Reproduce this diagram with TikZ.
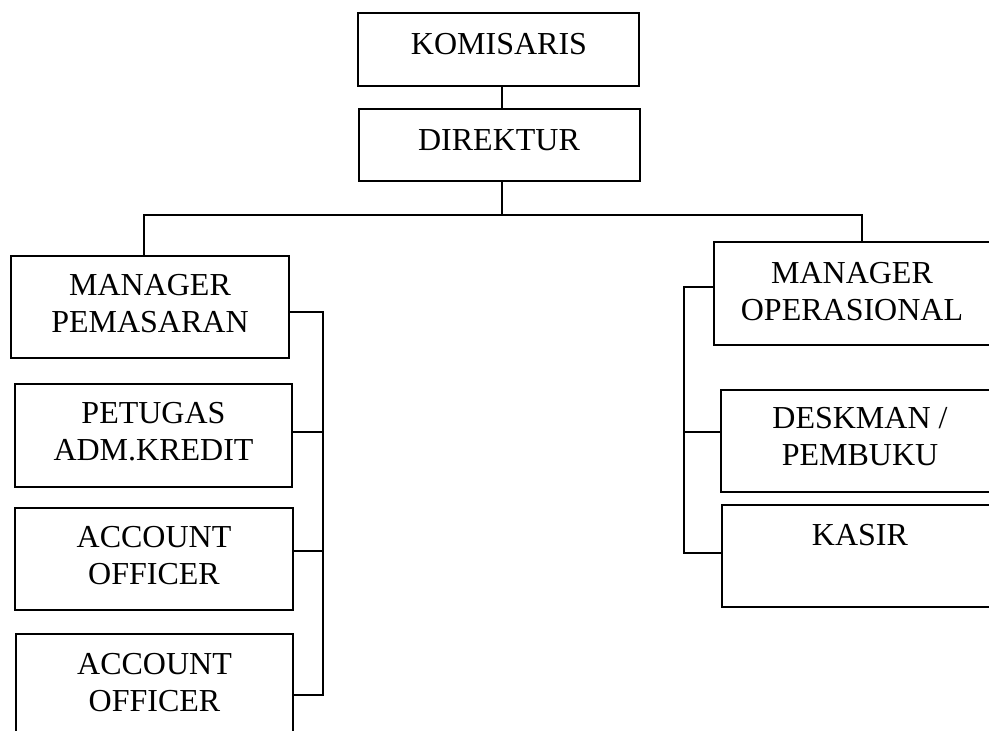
\documentclass[tikz,border=0pt]{standalone}
\usepackage{fontspec}
\setmainfont{Liberation Serif}
\begin{document}
\begin{tikzpicture}[x=1pt,y=-1pt,
  box/.style={draw=black, line width=1.1pt, inner sep=0pt},
  lbl/.style={inner sep=0pt, align=center, font=\fontsize{32}{37}\selectfont},
  conn/.style={draw=black, line width=1.1pt}]
\useasboundingbox[fill=white] (0,0) rectangle (989,731);
% boxes
\node[box, minimum width=281pt, minimum height=73pt] (kom) at (498.5,49.5) {};
\node[box, minimum width=281pt, minimum height=72pt] (dir) at (499.5,145) {};
\node[box, minimum width=278pt, minimum height=102pt] (mp) at (150,307) {};
\node[box, minimum width=277pt, minimum height=103pt] (pet) at (153.5,435.5) {};
\node[box, minimum width=278pt, minimum height=102pt] (ao1) at (154,559) {};
\node[box, minimum width=277pt, minimum height=102pt] (ao2) at (154.5,685) {};
\node[box, minimum width=276pt, minimum height=103pt] (mo) at (852,293.5) {};
\node[box, minimum width=278pt, minimum height=102pt] (des) at (860,441) {};
\node[box, minimum width=276pt, minimum height=102pt] (kas) at (860,556) {};
% texts
\node[lbl] (tkom) at (499,44) {KOMISARIS};
\node[lbl] (tdir) at (499,140) {DIREKTUR};
\node[lbl] (tmp) at (150,303.5) {MANAGER\\PEMASARAN};
\node[lbl] (tpet) at (153.5,431.5) {PETUGAS\\ADM.KREDIT};
\node[lbl] (tao1) at (154,556) {ACCOUNT\\OFFICER};
\node[lbl] (tao2) at (154.5,683) {ACCOUNT\\OFFICER};
\node[lbl] (tmo) at (852,292) {MANAGER\\OPERASIONAL};
\node[lbl] (tdes) at (860,436.5) {DESKMAN /\\PEMBUKU};
\node[lbl] (tkas) at (860,535) {KASIR};
% junction coordinates
\coordinate (j) at (502,215);
\coordinate (jl) at (144,215);
\coordinate (jr) at (862,215);
\coordinate (b1) at (323,312);
\coordinate (b2) at (323,432);
\coordinate (b3) at (323,551);
\coordinate (b4) at (323,695);
\coordinate (r1) at (684,287);
\coordinate (r2) at (684,432);
\coordinate (r3) at (684,553);
% connectors
\draw[conn] (kom.south -| j) -- (dir.north -| j);
\draw[conn] (dir.south -| j) -- (j);
\draw[conn] (mp.north -| jl) -- (jl) -- (jr) -- (mo.north -| jr);
\draw[conn] (mp.east |- b1) -- (b1) -- (b4) -- (ao2.east |- b4);
\draw[conn] (pet.east |- b2) -- (b2);
\draw[conn] (ao1.east |- b3) -- (b3);
\draw[conn] (mo.west |- r1) -- (r1) -- (r3) -- (kas.west |- r3);
\draw[conn] (des.west |- r2) -- (r2);
\end{tikzpicture}
\end{document}
